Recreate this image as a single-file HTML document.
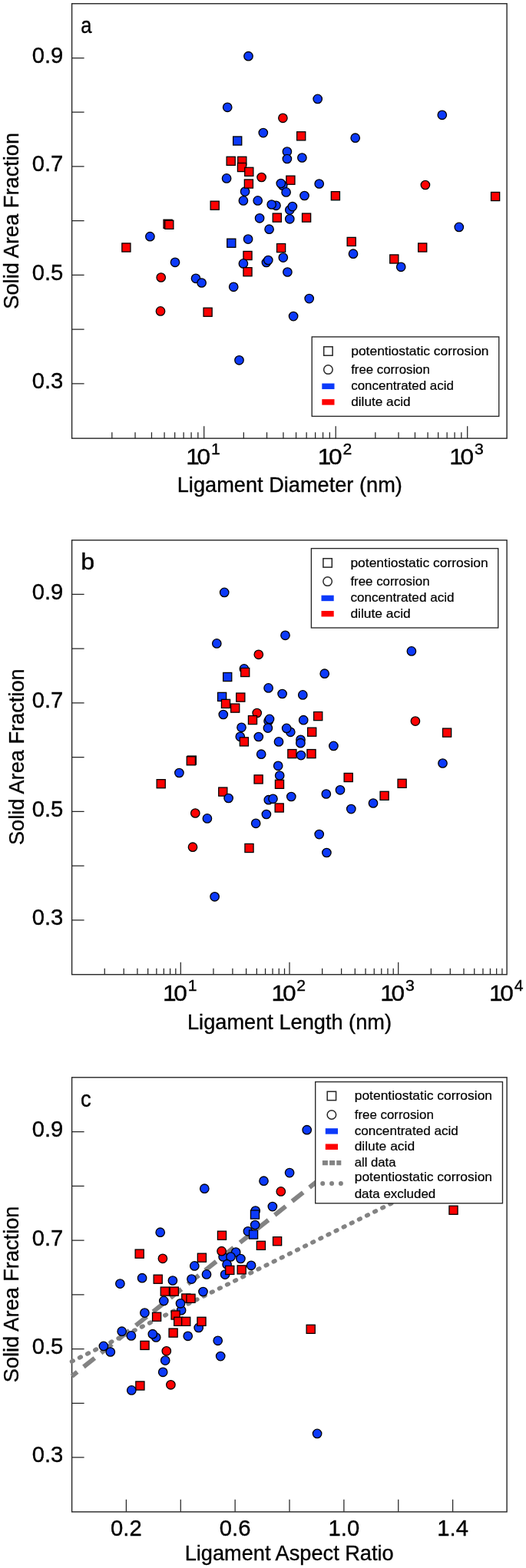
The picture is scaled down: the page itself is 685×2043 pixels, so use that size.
<!DOCTYPE html>
<html lang="en"><head><meta charset="utf-8"><title>Solid area fraction vs ligament size</title>
<style>
html,body{margin:0;padding:0;background:#fff}
svg{display:block}
text{font-family:"Liberation Sans", sans-serif;fill:#000;stroke:#000;stroke-width:0.35px}
.tk{font-size:28.7px}
.tl{font-size:29.6px}
.ten{letter-spacing:-3.1px}
.ex{font-size:19.8px}
.ax{font-size:27.2px}
.lg{font-size:17px;stroke-width:0.2px}
.pl{font-size:30.4px;stroke-width:0.4px}
.m circle,.m rect{stroke:#000;stroke-width:1.3}
</style></head><body>
<svg width="685" height="2043" viewBox="0 0 685 2043">
<rect width="685" height="2043" fill="#fff"/>
<g id="panel-a">
<rect x="93.6" y="4.75" width="566.5" height="566.4" fill="none" stroke="#262626" stroke-width="1.4"/>
<path d="M93.6 75.5h16 M93.6 146.24h16 M93.6 216.98h16 M93.6 287.72h16 M93.6 358.46h16 M93.6 429.2h16 M93.6 499.94h16" stroke="#262626" stroke-width="1.25" fill="none"/>
<text class="tk" transform="translate(82.4 82) scale(1.02 1)" text-anchor="end">0.9</text>
<text class="tk" transform="translate(82.4 223.48) scale(1.02 1)" text-anchor="end">0.7</text>
<text class="tk" transform="translate(82.4 364.96) scale(1.02 1)" text-anchor="end">0.5</text>
<text class="tk" transform="translate(82.4 506.44) scale(1.02 1)" text-anchor="end">0.3</text>
<path d="M145.83 571.15v-8 M176.03 571.15v-8 M197.45 571.15v-8 M214.07 571.15v-8 M227.65 571.15v-8 M239.13 571.15v-8 M249.08 571.15v-8 M257.85 571.15v-8 M265.7 571.15v-16 M317.33 571.15v-8 M347.53 571.15v-8 M368.95 571.15v-8 M385.57 571.15v-8 M399.15 571.15v-8 M410.63 571.15v-8 M420.58 571.15v-8 M429.35 571.15v-8 M437.2 571.15v-16 M488.83 571.15v-8 M519.03 571.15v-8 M540.45 571.15v-8 M557.07 571.15v-8 M570.65 571.15v-8 M582.13 571.15v-8 M592.08 571.15v-8 M600.85 571.15v-8 M608.7 571.15v-16" stroke="#262626" stroke-width="1.25" fill="none"/>
<text class="tl" transform="translate(242.3 605.2) scale(1.07 1)"><tspan class="ten">10</tspan><tspan class="ex" dx="3.9" dy="-13.2">1</tspan></text>
<text class="tl" transform="translate(413.8 605.2) scale(1.07 1)"><tspan class="ten">10</tspan><tspan class="ex" dx="3.9" dy="-13.2">2</tspan></text>
<text class="tl" transform="translate(585.3 605.2) scale(1.07 1)"><tspan class="ten">10</tspan><tspan class="ex" dx="3.9" dy="-13.2">3</tspan></text>
<text class="pl" transform="translate(105.3 42.6) scale(0.84 1)">a</text>
<text class="ax" transform="translate(24.3 287.8) rotate(-90)" text-anchor="middle">Solid Area Fraction</text>
<text class="ax" x="377.3" y="641" text-anchor="middle">Ligament Diameter (nm)</text>
<g class="m">
<circle cx="323.5" cy="73.2" r="5.72" fill="#0c3afa"/>
<circle cx="296.2" cy="139.8" r="5.72" fill="#0c3afa"/>
<circle cx="413.7" cy="128.9" r="5.72" fill="#0c3afa"/>
<circle cx="368.4" cy="153.8" r="5.72" fill="#fe0202"/>
<circle cx="342.8" cy="173.1" r="5.72" fill="#0c3afa"/>
<rect x="386.65" y="171.75" width="11.1" height="11.1" fill="#fe0202"/>
<rect x="303.65" y="177.95" width="11.1" height="11.1" fill="#0c3afa"/>
<circle cx="575.8" cy="149.8" r="5.72" fill="#0c3afa"/>
<circle cx="462.7" cy="179.7" r="5.72" fill="#0c3afa"/>
<circle cx="373.9" cy="197.6" r="5.72" fill="#0c3afa"/>
<circle cx="373.9" cy="207" r="5.72" fill="#0c3afa"/>
<circle cx="393.4" cy="205.5" r="5.72" fill="#0c3afa"/>
<rect x="295.15" y="204.25" width="11.1" height="11.1" fill="#fe0202"/>
<rect x="309.75" y="204.25" width="11.1" height="11.1" fill="#fe0202"/>
<rect x="309.45" y="212.45" width="11.1" height="11.1" fill="#fe0202"/>
<rect x="318.75" y="218.25" width="11.1" height="11.1" fill="#fe0202"/>
<circle cx="295.1" cy="232.4" r="5.72" fill="#0c3afa"/>
<circle cx="340.6" cy="231" r="5.72" fill="#fe0202"/>
<rect x="372.85" y="229.15" width="11.1" height="11.1" fill="#fe0202"/>
<circle cx="368.2" cy="241.7" r="5.72" fill="#0c3afa"/>
<circle cx="365.8" cy="239" r="5.72" fill="#0c3afa"/>
<circle cx="372.6" cy="250.4" r="5.72" fill="#0c3afa"/>
<circle cx="415.7" cy="239.5" r="5.72" fill="#0c3afa"/>
<circle cx="319.1" cy="249.6" r="5.72" fill="#0c3afa"/>
<rect x="318.35" y="233.95" width="11.1" height="11.1" fill="#fe0202"/>
<circle cx="396.5" cy="255" r="5.72" fill="#0c3afa"/>
<rect x="431.35" y="249.65" width="11.1" height="11.1" fill="#fe0202"/>
<circle cx="316.9" cy="261.4" r="5.72" fill="#0c3afa"/>
<circle cx="335.7" cy="261.4" r="5.72" fill="#0c3afa"/>
<rect x="274.15" y="262.15" width="11.1" height="11.1" fill="#fe0202"/>
<circle cx="359.5" cy="267.8" r="5.72" fill="#0c3afa"/>
<circle cx="353.7" cy="266.5" r="5.72" fill="#0c3afa"/>
<circle cx="377.3" cy="273.6" r="5.72" fill="#0c3afa"/>
<circle cx="380.9" cy="269.1" r="5.72" fill="#0c3afa"/>
<circle cx="338.1" cy="284.3" r="5.72" fill="#0c3afa"/>
<rect x="355.25" y="278.05" width="11.1" height="11.1" fill="#fe0202"/>
<circle cx="377.3" cy="285.3" r="5.72" fill="#0c3afa"/>
<rect x="393.55" y="278.05" width="11.1" height="11.1" fill="#fe0202"/>
<circle cx="350.6" cy="298.7" r="5.72" fill="#0c3afa"/>
<circle cx="323.1" cy="311.6" r="5.72" fill="#0c3afa"/>
<rect x="295.75" y="311.15" width="11.1" height="11.1" fill="#0c3afa"/>
<rect x="360.55" y="317.55" width="11.1" height="11.1" fill="#fe0202"/>
<rect x="316.95" y="327.45" width="11.1" height="11.1" fill="#fe0202"/>
<circle cx="368.8" cy="335.6" r="5.72" fill="#0c3afa"/>
<circle cx="346.9" cy="342" r="5.72" fill="#0c3afa"/>
<circle cx="349.3" cy="339" r="5.72" fill="#0c3afa"/>
<circle cx="316.9" cy="343.4" r="5.72" fill="#0c3afa"/>
<rect x="316.95" y="348.65" width="11.1" height="11.1" fill="#fe0202"/>
<circle cx="374.4" cy="354.5" r="5.72" fill="#0c3afa"/>
<circle cx="553.9" cy="241" r="5.72" fill="#fe0202"/>
<rect x="639.55" y="250.45" width="11.1" height="11.1" fill="#fe0202"/>
<circle cx="597.8" cy="295.9" r="5.72" fill="#0c3afa"/>
<rect x="452.15" y="309.35" width="11.1" height="11.1" fill="#fe0202"/>
<circle cx="460" cy="330.7" r="5.72" fill="#0c3afa"/>
<rect x="544.65" y="316.95" width="11.1" height="11.1" fill="#fe0202"/>
<rect x="507.75" y="331.95" width="11.1" height="11.1" fill="#fe0202"/>
<circle cx="522.2" cy="347.8" r="5.72" fill="#0c3afa"/>
<rect x="213.05" y="286.25" width="11.1" height="11.1" fill="#fe0202"/>
<rect x="214.75" y="287.25" width="11.1" height="11.1" fill="#fe0202"/>
<circle cx="195.4" cy="308.2" r="5.72" fill="#0c3afa"/>
<rect x="158.85" y="316.95" width="11.1" height="11.1" fill="#fe0202"/>
<circle cx="228" cy="341.8" r="5.72" fill="#0c3afa"/>
<circle cx="209.7" cy="361.5" r="5.72" fill="#fe0202"/>
<circle cx="209" cy="405.4" r="5.72" fill="#fe0202"/>
<circle cx="255" cy="362.8" r="5.72" fill="#0c3afa"/>
<circle cx="262.6" cy="368.5" r="5.72" fill="#0c3afa"/>
<circle cx="304.2" cy="373.8" r="5.72" fill="#0c3afa"/>
<circle cx="402.7" cy="389.1" r="5.72" fill="#0c3afa"/>
<rect x="265.05" y="401.15" width="11.1" height="11.1" fill="#fe0202"/>
<circle cx="382.1" cy="412.1" r="5.72" fill="#0c3afa"/>
<circle cx="311.5" cy="469.3" r="5.72" fill="#0c3afa"/>
</g>
<rect x="406.2" y="438.9" width="243.55" height="103.5" fill="#fff" stroke="#262626" stroke-width="1.35"/>
<rect x="421.7" y="451.8" width="11.4" height="11.4" fill="#fff" stroke="#262626" stroke-width="1.5"/>
<circle cx="427.4" cy="481.6" r="5.75" fill="#fff" stroke="#262626" stroke-width="1.5"/>
<rect x="419.3" y="499.55" width="16.2" height="7.5" fill="#0c3afa"/>
<rect x="419.3" y="520.15" width="16.2" height="7.5" fill="#fe0202"/>
<text class="lg" x="457.2" y="463" textLength="179.4" lengthAdjust="spacingAndGlyphs">potentiostatic corrosion</text>
<text class="lg" x="457.2" y="487.1" textLength="102.6" lengthAdjust="spacingAndGlyphs">free corrosion</text>
<text class="lg" x="457.2" y="508.1" textLength="133.7" lengthAdjust="spacingAndGlyphs">concentrated acid</text>
<text class="lg" x="457.2" y="528.5" textLength="77.5" lengthAdjust="spacingAndGlyphs">dilute acid</text>
</g>
<g id="panel-b">
<rect x="93.6" y="703.8" width="566.5" height="565.95" fill="none" stroke="#262626" stroke-width="1.4"/>
<path d="M93.6 774.35h16 M93.6 845.09h16 M93.6 915.83h16 M93.6 986.57h16 M93.6 1057.31h16 M93.6 1128.05h16 M93.6 1198.79h16" stroke="#262626" stroke-width="1.25" fill="none"/>
<text class="tk" transform="translate(82.4 780.85) scale(1.02 1)" text-anchor="end">0.9</text>
<text class="tk" transform="translate(82.4 922.33) scale(1.02 1)" text-anchor="end">0.7</text>
<text class="tk" transform="translate(82.4 1063.81) scale(1.02 1)" text-anchor="end">0.5</text>
<text class="tk" transform="translate(82.4 1205.29) scale(1.02 1)" text-anchor="end">0.3</text>
<path d="M136.26 1269.75v-8 M161.21 1269.75v-8 M178.91 1269.75v-8 M192.64 1269.75v-8 M203.86 1269.75v-8 M213.35 1269.75v-8 M221.57 1269.75v-8 M228.82 1269.75v-8 M235.3 1269.75v-16 M277.96 1269.75v-8 M302.91 1269.75v-8 M320.61 1269.75v-8 M334.34 1269.75v-8 M345.56 1269.75v-8 M355.05 1269.75v-8 M363.27 1269.75v-8 M370.52 1269.75v-8 M377 1269.75v-16 M419.66 1269.75v-8 M444.61 1269.75v-8 M462.31 1269.75v-8 M476.04 1269.75v-8 M487.26 1269.75v-8 M496.75 1269.75v-8 M504.97 1269.75v-8 M512.22 1269.75v-8 M518.7 1269.75v-16 M561.36 1269.75v-8 M586.31 1269.75v-8 M604.01 1269.75v-8 M617.74 1269.75v-8 M628.96 1269.75v-8 M638.45 1269.75v-8 M646.67 1269.75v-8 M653.92 1269.75v-8" stroke="#262626" stroke-width="1.25" fill="none"/>
<text class="tl" transform="translate(211.9 1303.8) scale(1.07 1)"><tspan class="ten">10</tspan><tspan class="ex" dx="3.9" dy="-13.2">1</tspan></text>
<text class="tl" transform="translate(353.6 1303.8) scale(1.07 1)"><tspan class="ten">10</tspan><tspan class="ex" dx="3.9" dy="-13.2">2</tspan></text>
<text class="tl" transform="translate(495.3 1303.8) scale(1.07 1)"><tspan class="ten">10</tspan><tspan class="ex" dx="3.9" dy="-13.2">3</tspan></text>
<text class="tl" transform="translate(637 1303.8) scale(1.07 1)"><tspan class="ten">10</tspan><tspan class="ex" dx="3.9" dy="-13.2">4</tspan></text>
<text class="pl" transform="translate(105.2 741.8) scale(1.06 1)">b</text>
<text class="ax" transform="translate(30.5 986.2) rotate(-90)" text-anchor="middle">Solid Area Fraction</text>
<text class="ax" x="377" y="1340.8" text-anchor="middle">Ligament Length (nm)</text>
<g class="m">
<circle cx="292.2" cy="771.9" r="5.72" fill="#0c3afa"/>
<circle cx="282.3" cy="838.4" r="5.72" fill="#0c3afa"/>
<circle cx="371.5" cy="827.8" r="5.72" fill="#0c3afa"/>
<circle cx="336.8" cy="852.8" r="5.72" fill="#fe0202"/>
<circle cx="317.9" cy="871.4" r="5.72" fill="#0c3afa"/>
<rect x="313.65" y="870.45" width="11.1" height="11.1" fill="#fe0202"/>
<rect x="290.65" y="876.45" width="11.1" height="11.1" fill="#0c3afa"/>
<circle cx="422.7" cy="877.7" r="5.72" fill="#0c3afa"/>
<circle cx="349.6" cy="896.4" r="5.72" fill="#0c3afa"/>
<circle cx="367.6" cy="904" r="5.72" fill="#0c3afa"/>
<circle cx="394.3" cy="905.4" r="5.72" fill="#0c3afa"/>
<rect x="283.55" y="902.35" width="11.1" height="11.1" fill="#0c3afa"/>
<rect x="307.75" y="903.05" width="11.1" height="11.1" fill="#fe0202"/>
<rect x="288.45" y="911.35" width="11.1" height="11.1" fill="#fe0202"/>
<rect x="300.65" y="917.05" width="11.1" height="11.1" fill="#fe0202"/>
<circle cx="290.8" cy="931" r="5.72" fill="#0c3afa"/>
<circle cx="334.7" cy="929" r="5.72" fill="#fe0202"/>
<rect x="323.45" y="932.55" width="11.1" height="11.1" fill="#fe0202"/>
<rect x="408.65" y="927.55" width="11.1" height="11.1" fill="#fe0202"/>
<circle cx="349.6" cy="939.6" r="5.72" fill="#0c3afa"/>
<circle cx="351" cy="936.9" r="5.72" fill="#0c3afa"/>
<circle cx="395.2" cy="938.2" r="5.72" fill="#0c3afa"/>
<circle cx="314.5" cy="947.8" r="5.72" fill="#0c3afa"/>
<circle cx="348.9" cy="948.6" r="5.72" fill="#0c3afa"/>
<circle cx="378.3" cy="953.8" r="5.72" fill="#0c3afa"/>
<circle cx="373.2" cy="948.9" r="5.72" fill="#0c3afa"/>
<rect x="400.65" y="948.15" width="11.1" height="11.1" fill="#fe0202"/>
<circle cx="312.8" cy="959.8" r="5.72" fill="#0c3afa"/>
<rect x="312.35" y="960.85" width="11.1" height="11.1" fill="#fe0202"/>
<circle cx="336.8" cy="960" r="5.72" fill="#0c3afa"/>
<circle cx="363" cy="966.4" r="5.72" fill="#0c3afa"/>
<circle cx="391.5" cy="963.8" r="5.72" fill="#0c3afa"/>
<circle cx="391.4" cy="968.2" r="5.72" fill="#0c3afa"/>
<circle cx="434.4" cy="971.9" r="5.72" fill="#0c3afa"/>
<circle cx="340.2" cy="982.7" r="5.72" fill="#0c3afa"/>
<rect x="374.85" y="976.55" width="11.1" height="11.1" fill="#fe0202"/>
<circle cx="392" cy="984.1" r="5.72" fill="#0c3afa"/>
<rect x="399.95" y="976.55" width="11.1" height="11.1" fill="#fe0202"/>
<circle cx="362.2" cy="997.8" r="5.72" fill="#0c3afa"/>
<circle cx="364.2" cy="1010.5" r="5.72" fill="#0c3afa"/>
<rect x="358.45" y="1016.25" width="11.1" height="11.1" fill="#fe0202"/>
<rect x="331.05" y="1009.85" width="11.1" height="11.1" fill="#fe0202"/>
<rect x="284.75" y="1026.05" width="11.1" height="11.1" fill="#fe0202"/>
<circle cx="297.6" cy="1040" r="5.72" fill="#0c3afa"/>
<circle cx="379.3" cy="1038" r="5.72" fill="#0c3afa"/>
<circle cx="424.8" cy="1034.5" r="5.72" fill="#0c3afa"/>
<circle cx="443" cy="1029.3" r="5.72" fill="#0c3afa"/>
<circle cx="349.8" cy="1042.2" r="5.72" fill="#0c3afa"/>
<circle cx="355.5" cy="1040.8" r="5.72" fill="#0c3afa"/>
<rect x="358.15" y="1046.95" width="11.1" height="11.1" fill="#fe0202"/>
<circle cx="346.9" cy="1061" r="5.72" fill="#0c3afa"/>
<rect x="244.25" y="985.05" width="11.1" height="11.1" fill="#fe0202"/>
<rect x="243.25" y="985.75" width="11.1" height="11.1" fill="#fe0202"/>
<circle cx="233.4" cy="1007" r="5.72" fill="#0c3afa"/>
<rect x="204.15" y="1015.65" width="11.1" height="11.1" fill="#fe0202"/>
<rect x="448.15" y="1007.45" width="11.1" height="11.1" fill="#fe0202"/>
<circle cx="457.3" cy="1054.1" r="5.72" fill="#0c3afa"/>
<circle cx="254.3" cy="1059.5" r="5.72" fill="#fe0202"/>
<circle cx="269.9" cy="1066.4" r="5.72" fill="#0c3afa"/>
<circle cx="333.2" cy="1072.8" r="5.72" fill="#0c3afa"/>
<circle cx="415.7" cy="1087.1" r="5.72" fill="#0c3afa"/>
<circle cx="251" cy="1103.7" r="5.72" fill="#fe0202"/>
<rect x="318.95" y="1099.45" width="11.1" height="11.1" fill="#fe0202"/>
<circle cx="425.4" cy="1111" r="5.72" fill="#0c3afa"/>
<circle cx="535.9" cy="848.4" r="5.72" fill="#0c3afa"/>
<circle cx="540.9" cy="939.6" r="5.72" fill="#fe0202"/>
<rect x="576.55" y="949.05" width="11.1" height="11.1" fill="#fe0202"/>
<circle cx="576.5" cy="994.5" r="5.72" fill="#0c3afa"/>
<rect x="518.05" y="1015.25" width="11.1" height="11.1" fill="#fe0202"/>
<rect x="495.05" y="1031.25" width="11.1" height="11.1" fill="#fe0202"/>
<circle cx="486" cy="1046.5" r="5.72" fill="#0c3afa"/>
<circle cx="279.6" cy="1168.3" r="5.72" fill="#0c3afa"/>
</g>
<rect x="405.4" y="714.6" width="243.35" height="103.4" fill="#fff" stroke="#262626" stroke-width="1.35"/>
<rect x="420.9" y="727.7" width="11.4" height="11.4" fill="#fff" stroke="#262626" stroke-width="1.5"/>
<circle cx="426.6" cy="757.6" r="5.75" fill="#fff" stroke="#262626" stroke-width="1.5"/>
<rect x="418.5" y="775.65" width="16.2" height="7.5" fill="#0c3afa"/>
<rect x="418.5" y="795.95" width="16.2" height="7.5" fill="#fe0202"/>
<text class="lg" x="456.4" y="738.8" textLength="179.4" lengthAdjust="spacingAndGlyphs">potentiostatic corrosion</text>
<text class="lg" x="456.4" y="762.9" textLength="103.2" lengthAdjust="spacingAndGlyphs">free corrosion</text>
<text class="lg" x="456.4" y="784.4" textLength="135.2" lengthAdjust="spacingAndGlyphs">concentrated acid</text>
<text class="lg" x="456.4" y="804.9" textLength="78.4" lengthAdjust="spacingAndGlyphs">dilute acid</text>
</g>
<g id="panel-c">
<rect x="93.6" y="1403.8" width="566.5" height="566.05" fill="none" stroke="#262626" stroke-width="1.4"/>
<path d="M93.6 1474.55h16 M93.6 1545.29h16 M93.6 1616.03h16 M93.6 1686.77h16 M93.6 1757.51h16 M93.6 1828.25h16 M93.6 1898.99h16" stroke="#262626" stroke-width="1.25" fill="none"/>
<text class="tk" transform="translate(82.4 1481.05) scale(1.02 1)" text-anchor="end">0.9</text>
<text class="tk" transform="translate(82.4 1622.53) scale(1.02 1)" text-anchor="end">0.7</text>
<text class="tk" transform="translate(82.4 1764.01) scale(1.02 1)" text-anchor="end">0.5</text>
<text class="tk" transform="translate(82.4 1905.49) scale(1.02 1)" text-anchor="end">0.3</text>
<path d="M164.4 1969.85v-16 M235.27 1969.85v-16 M306.14 1969.85v-16 M377.01 1969.85v-16 M447.88 1969.85v-16 M518.75 1969.85v-16 M589.62 1969.85v-16" stroke="#262626" stroke-width="1.25" fill="none"/>
<text class="tk" transform="translate(164.4 2001.4) scale(1.02 1)" text-anchor="middle">0.2</text>
<text class="tk" transform="translate(306.14 2001.4) scale(1.02 1)" text-anchor="middle">0.6</text>
<text class="tk" transform="translate(447.88 2001.4) scale(1.02 1)" text-anchor="middle">1.0</text>
<text class="tk" transform="translate(589.62 2001.4) scale(1.02 1)" text-anchor="middle">1.4</text>
<text class="pl" transform="translate(105.0 1441.8) scale(0.9 1)">c</text>
<text class="ax" transform="translate(24.3 1686.4) rotate(-90)" text-anchor="middle">Solid Area Fraction</text>
<text class="ax" x="376.7" y="2033.3" text-anchor="middle">Ligament Aspect Ratio</text>
<path d="M93.6 1793.1L416 1536.8" stroke="#838383" stroke-width="5.9" stroke-dasharray="18.3 10.6" stroke-dashoffset="9.3" fill="none"/>
<path d="M93.5 1773.9L549.0 1548.5" stroke="#838383" stroke-width="5.6" stroke-dasharray="1.8 9.48" stroke-linecap="round" fill="none"/>
<g class="m">
<circle cx="399.7" cy="1472.2" r="5.72" fill="#0c3afa"/>
<circle cx="377.1" cy="1528.1" r="5.72" fill="#0c3afa"/>
<circle cx="343.5" cy="1538.7" r="5.72" fill="#0c3afa"/>
<circle cx="266.3" cy="1548.7" r="5.72" fill="#0c3afa"/>
<circle cx="365.8" cy="1552.4" r="5.72" fill="#fe0202"/>
<circle cx="354.9" cy="1572.1" r="5.72" fill="#0c3afa"/>
<circle cx="332.7" cy="1577.5" r="5.72" fill="#0c3afa"/>
<rect x="326.45" y="1576.95" width="11.1" height="11.1" fill="#0c3afa"/>
<circle cx="322.9" cy="1604.3" r="5.72" fill="#0c3afa"/>
<rect x="324.55" y="1602.95" width="11.1" height="11.1" fill="#0c3afa"/>
<circle cx="332.2" cy="1596" r="5.72" fill="#0c3afa"/>
<circle cx="208.7" cy="1605.7" r="5.72" fill="#0c3afa"/>
<rect x="283.45" y="1604.15" width="11.1" height="11.1" fill="#fe0202"/>
<rect x="355.55" y="1611.65" width="11.1" height="11.1" fill="#fe0202"/>
<rect x="334.35" y="1617.25" width="11.1" height="11.1" fill="#fe0202"/>
<circle cx="290.6" cy="1637.5" r="5.72" fill="#0c3afa"/>
<circle cx="288.6" cy="1630.2" r="5.72" fill="#fe0202"/>
<circle cx="307.2" cy="1631.5" r="5.72" fill="#0c3afa"/>
<circle cx="300.5" cy="1637.5" r="5.72" fill="#0c3afa"/>
<circle cx="313.4" cy="1640" r="5.72" fill="#0c3afa"/>
<circle cx="295.6" cy="1647.4" r="5.72" fill="#0c3afa"/>
<circle cx="327.1" cy="1648.8" r="5.72" fill="#0c3afa"/>
<circle cx="293.1" cy="1660.6" r="5.72" fill="#0c3afa"/>
<rect x="293.75" y="1649.35" width="11.1" height="11.1" fill="#fe0202"/>
<rect x="309.15" y="1648.85" width="11.1" height="11.1" fill="#fe0202"/>
<circle cx="211.9" cy="1639.8" r="5.72" fill="#fe0202"/>
<rect x="257.35" y="1633.15" width="11.1" height="11.1" fill="#fe0202"/>
<circle cx="253.3" cy="1649.4" r="5.72" fill="#0c3afa"/>
<circle cx="269" cy="1660.4" r="5.72" fill="#0c3afa"/>
<circle cx="249.5" cy="1666.6" r="5.72" fill="#0c3afa"/>
<rect x="200.15" y="1661.15" width="11.1" height="11.1" fill="#fe0202"/>
<circle cx="224.9" cy="1668.5" r="5.72" fill="#0c3afa"/>
<rect x="209.25" y="1677.05" width="11.1" height="11.1" fill="#fe0202"/>
<rect x="221.25" y="1677.05" width="11.1" height="11.1" fill="#fe0202"/>
<circle cx="264.5" cy="1683" r="5.72" fill="#0c3afa"/>
<rect x="236.75" y="1685.95" width="11.1" height="11.1" fill="#fe0202"/>
<rect x="242.95" y="1686.25" width="11.1" height="11.1" fill="#fe0202"/>
<circle cx="213.3" cy="1694.9" r="5.72" fill="#0c3afa"/>
<circle cx="236.1" cy="1707.2" r="5.72" fill="#0c3afa"/>
<circle cx="235" cy="1698.3" r="5.72" fill="#0c3afa"/>
<rect x="198.55" y="1710.15" width="11.1" height="11.1" fill="#fe0202"/>
<rect x="223.05" y="1707.95" width="11.1" height="11.1" fill="#fe0202"/>
<rect x="226.65" y="1716.25" width="11.1" height="11.1" fill="#fe0202"/>
<rect x="236.65" y="1716.25" width="11.1" height="11.1" fill="#fe0202"/>
<circle cx="258.7" cy="1729.9" r="5.72" fill="#0c3afa"/>
<rect x="256.95" y="1716.25" width="11.1" height="11.1" fill="#fe0202"/>
<rect x="220.05" y="1731.05" width="11.1" height="11.1" fill="#fe0202"/>
<circle cx="244.7" cy="1740.8" r="5.72" fill="#0c3afa"/>
<circle cx="203.2" cy="1742.5" r="5.72" fill="#0c3afa"/>
<circle cx="198.8" cy="1738.2" r="5.72" fill="#0c3afa"/>
<circle cx="185.1" cy="1665.2" r="5.72" fill="#0c3afa"/>
<circle cx="156.4" cy="1672.6" r="5.72" fill="#0c3afa"/>
<rect x="176.15" y="1628.05" width="11.1" height="11.1" fill="#fe0202"/>
<circle cx="188.4" cy="1710.6" r="5.72" fill="#0c3afa"/>
<circle cx="158.7" cy="1734.7" r="5.72" fill="#0c3afa"/>
<circle cx="170.9" cy="1740.4" r="5.72" fill="#0c3afa"/>
<rect x="182.95" y="1747.35" width="11.1" height="11.1" fill="#fe0202"/>
<circle cx="134.9" cy="1753.9" r="5.72" fill="#0c3afa"/>
<circle cx="143.8" cy="1761.5" r="5.72" fill="#0c3afa"/>
<circle cx="216.8" cy="1760.3" r="5.72" fill="#fe0202"/>
<circle cx="215.2" cy="1772.6" r="5.72" fill="#0c3afa"/>
<circle cx="283.7" cy="1746.8" r="5.72" fill="#0c3afa"/>
<circle cx="287.2" cy="1767.1" r="5.72" fill="#0c3afa"/>
<circle cx="212.2" cy="1787.8" r="5.72" fill="#0c3afa"/>
<rect x="176.85" y="1799.95" width="11.1" height="11.1" fill="#fe0202"/>
<circle cx="171.3" cy="1811.4" r="5.72" fill="#0c3afa"/>
<circle cx="222.4" cy="1804.3" r="5.72" fill="#fe0202"/>
<rect x="399.15" y="1726.25" width="11.1" height="11.1" fill="#fe0202"/>
<rect x="584.95" y="1571.15" width="11.1" height="11.1" fill="#fe0202"/>
<circle cx="413.1" cy="1867.9" r="5.72" fill="#0c3afa"/>
</g>
<rect x="410.7" y="1409.6" width="243.75" height="158.2" fill="#fff" stroke="#262626" stroke-width="1.35"/>
<rect x="426.2" y="1422.2" width="11.4" height="11.4" fill="#fff" stroke="#262626" stroke-width="1.5"/>
<circle cx="431.9" cy="1452.5" r="5.75" fill="#fff" stroke="#262626" stroke-width="1.5"/>
<rect x="423.8" y="1470.15" width="16.2" height="7.5" fill="#0c3afa"/>
<rect x="423.8" y="1490.45" width="16.2" height="7.5" fill="#fe0202"/>
<path d="M419.9 1515.1h24.4" stroke="#838383" stroke-width="6.4" stroke-dasharray="7 2.2" fill="none"/>
<path d="M420.2 1542.1h24" stroke="#838383" stroke-width="6" stroke-dasharray="0 11.85" stroke-linecap="round" fill="none"/>
<text class="lg" x="461.7" y="1433.1" textLength="179.4" lengthAdjust="spacingAndGlyphs">potentiostatic corrosion</text>
<text class="lg" x="461.7" y="1457.5" textLength="103.2" lengthAdjust="spacingAndGlyphs">free corrosion</text>
<text class="lg" x="461.7" y="1478.5" textLength="135.2" lengthAdjust="spacingAndGlyphs">concentrated acid</text>
<text class="lg" x="461.7" y="1499.1" textLength="78.4" lengthAdjust="spacingAndGlyphs">dilute acid</text>
<text class="lg" x="461.7" y="1519.9" textLength="53.8" lengthAdjust="spacingAndGlyphs">all data</text>
<text class="lg" x="461.7" y="1538.9" textLength="179.4" lengthAdjust="spacingAndGlyphs">potentiostatic corrosion</text>
<text class="lg" x="461.7" y="1560.7" textLength="105.6" lengthAdjust="spacingAndGlyphs">data excluded</text>
</g>
</svg>
</body></html>
